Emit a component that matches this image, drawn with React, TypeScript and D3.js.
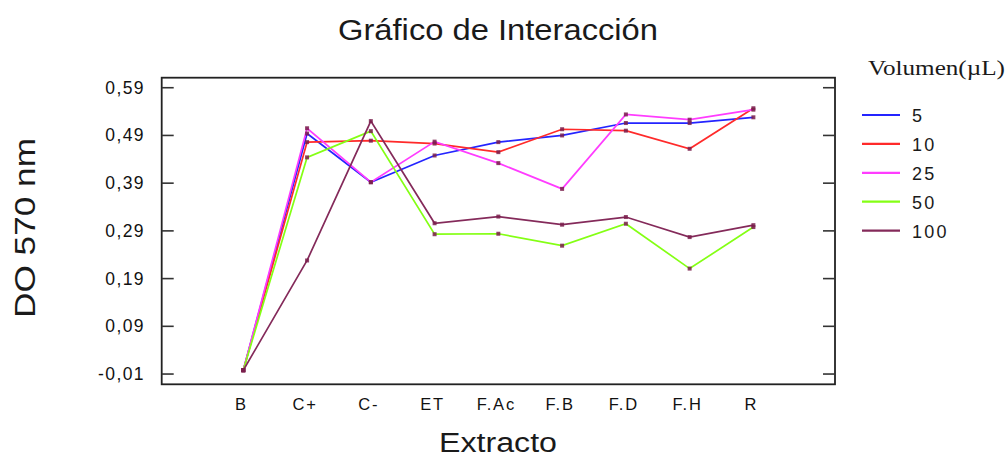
import React from "react";
import * as d3 from "d3";

const categories = ["B", "C+", "C-", "ET", "F.Ac", "F.B", "F.D", "F.H", "R"];
const seriesNames = ["5", "10", "25", "50", "100"];
const v5 = [-0.002, 0.494, 0.392, 0.448, 0.476, 0.49, 0.516, 0.516, 0.528];
const v10 = [-0.002, 0.476, 0.479, 0.473, 0.455, 0.503, 0.5, 0.462, 0.547];
const v25 = [-0.002, 0.505, 0.392, 0.477, 0.432, 0.378, 0.534, 0.523, 0.544];
const v50 = [-0.002, 0.444, 0.499, 0.283, 0.284, 0.259, 0.305, 0.211, 0.298];
const v100 = [-0.002, 0.228, 0.52, 0.306, 0.32, 0.303, 0.319, 0.277, 0.302];
const yTicks = [-0.01, 0.09, 0.19, 0.29, 0.39, 0.49, 0.59];
const colors = ["#2424ff", "#ff2a2a", "#ff3cff", "#84ff14", "#842a5a"];

const seriesValues = [v5, v10, v25, v50, v100];

export default function App() {
  const left = 161.7, right = 835, top = 77.7, bottom = 384.3;
  const x = d3.scalePoint<string>().domain(categories).range([left, right]).padding(1.28);
  const y = d3.scaleLinear().domain([-0.0315, 0.611]).range([bottom, top]);
  const line = d3
    .line<number>()
    .x((_, i) => x(categories[i]) as number)
    .y((d) => y(d));
  const fmt = (v: number) => d3.format(".2f")(v).replace(".", ",").replace("−", "-");
  const sans = "'Liberation Sans', Arial, sans-serif";

  return (
    <svg
      width={1008}
      height={459}
      style={{ position: "absolute", left: 0, top: 0, background: "#fff" }}
    >
      <rect x={0} y={0} width={1008} height={459} fill="#fff" />
      <text x={498} y={40} textAnchor="middle" fontFamily={sans} fontSize={29} fill="#1a1a1a" textLength={320} lengthAdjust="spacingAndGlyphs">
        Gráfico de Interacción
      </text>
      {/* plot box */}
      <rect x={left} y={top} width={right - left} height={bottom - top} fill="none" stroke="#222" strokeWidth={1.8} />
      {yTicks.map((t) => (
        <g key={t}>
          <line x1={left} x2={left + 12} y1={y(t)} y2={y(t)} stroke="#333" strokeWidth={1.6} />
          <line x1={right - 12} x2={right} y1={y(t)} y2={y(t)} stroke="#333" strokeWidth={1.6} />
          <text x={145} y={y(t) + 6} textAnchor="end" fontFamily={sans} fontSize={17.5} letterSpacing={1.4} fill="#111">
            {fmt(t)}
          </text>
        </g>
      ))}
      {categories.map((c) => (
        <text key={c} x={(x(c) as number) - 2} y={410} textAnchor="middle" fontFamily={sans} fontSize={16.5} letterSpacing={1.8} fill="#111">
          {c}
        </text>
      ))}
      <text x={498} y={452} textAnchor="middle" fontFamily={sans} fontSize={27} fill="#1a1a1a" textLength={118} lengthAdjust="spacingAndGlyphs">
        Extracto
      </text>
      <text
        transform="translate(35,228) rotate(-90)"
        textAnchor="middle"
        fontFamily={sans}
        fontSize={30}
        fill="#1a1a1a"
        textLength={180}
        lengthAdjust="spacingAndGlyphs"
      >
        DO 570 nm
      </text>
      {/* series lines */}
      {seriesValues.map((vals, si) => (
        <path key={si} d={line(vals) as string} fill="none" stroke={colors[si]} strokeWidth={1.7} />
      ))}
      {seriesValues.map((vals, si) =>
        vals.map((v, i) => (
          <rect
            key={`${si}-${i}`}
            x={(x(categories[i]) as number) - 2}
            y={y(v) - 2}
            width={4}
            height={4}
            fill="#7a1f4c"
            opacity={0.85}
          />
        ))
      )}
      {/* legend */}
      <text x={868} y={75} fontFamily="'Liberation Serif', 'Times New Roman', serif" fontSize={21} fill="#1a1a1a" textLength={137} lengthAdjust="spacingAndGlyphs">
        Volumen(µL)
      </text>
      {seriesNames.map((n, i) => {
        const ly = 115 + i * 28.9;
        return (
          <g key={n}>
            <line x1={862} x2={900} y1={ly} y2={ly} stroke={colors[i]} strokeWidth={2.2} />
            <text x={912} y={ly + 7} fontFamily={sans} fontSize={18} letterSpacing={2.2} fill="#1a1a1a">
              {n}
            </text>
          </g>
        );
      })}
    </svg>
  );
}
